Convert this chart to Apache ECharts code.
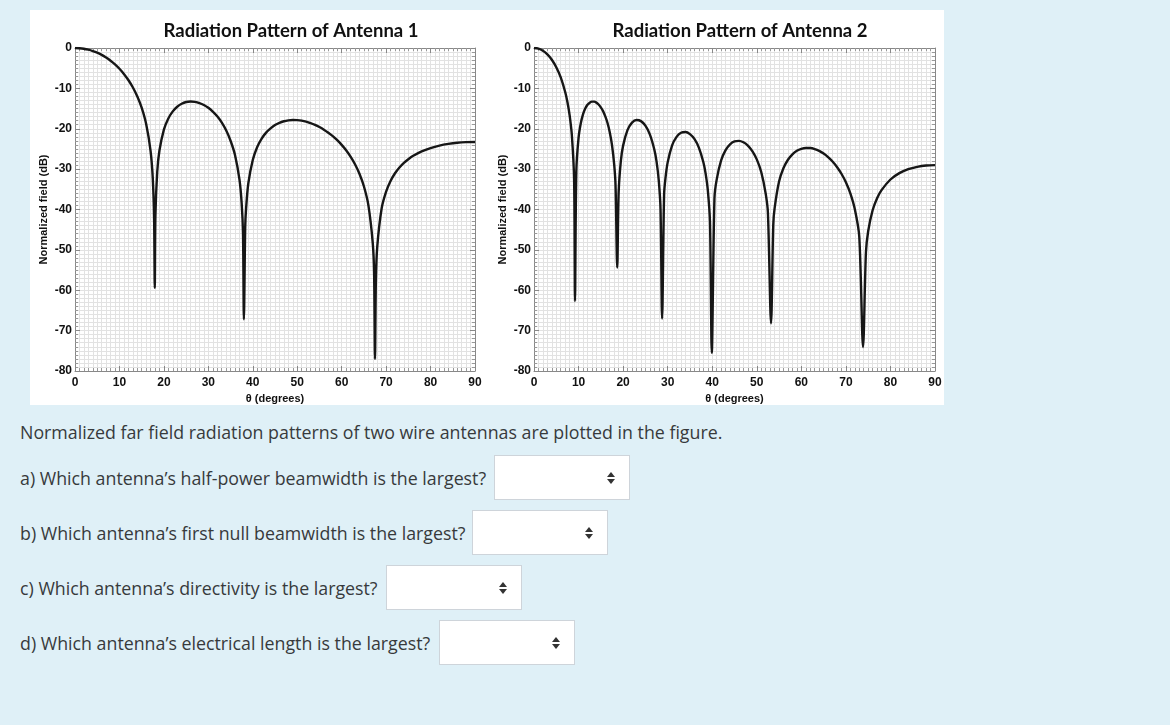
<!DOCTYPE html>
<html lang="en">
<head>
    <meta charset="UTF-8">
    <title>Radiation patterns</title>
    <script src="https://cdn.jsdelivr.net/npm/echarts@6/dist/echarts.min.js"></script>
    <style>
        body { margin: 0; background: #dff0f7; width: 1170px; height: 725px; position: relative; overflow: hidden;
               font-family: "Open Sans", sans-serif; color: #373a3c; }
        #main { position: absolute; left: 30px; top: 10px; width: 914px; height: 395px; background: #fff; }
        .q { position: absolute; left: 20px; font-size: 17.8px; line-height: 24px; white-space: nowrap; }
        .sel { position: absolute; width: 134px; height: 43px; background: #fff; border: 1px solid #ced4da; }
        .sel:before, .sel:after { content: ""; position: absolute; left: 112px; border-left: 4px solid transparent;
             border-right: 4px solid transparent; }
        .sel:before { top: 16px; border-bottom: 5px solid #333; }
        .sel:after { top: 23px; border-top: 5px solid #333; }
    </style>
</head>
<body>
<div id="main"></div>
<div class="q" style="top:420px">Normalized far field radiation patterns of two wire antennas are plotted in the figure.</div>
<div class="q" style="top:466px">a) Which antenna’s half-power beamwidth is the largest?</div>
<div class="sel" style="left:494px;top:455px"></div>
<div class="q" style="top:521px">b) Which antenna’s first null beamwidth is the largest?</div>
<div class="sel" style="left:472px;top:510px"></div>
<div class="q" style="top:576px">c) Which antenna’s directivity is the largest?</div>
<div class="sel" style="left:386px;top:565px"></div>
<div class="q" style="top:631px">d) Which antenna’s electrical length is the largest?</div>
<div class="sel" style="left:439px;top:620px"></div>
<script type="text/javascript">
    // values (theta in degrees, field in dB)
    var theta1 = [0, 1, 2, 3, 4, 5, 6, 7, 8, 9, 10, 11, 12, 13, 14, 15, 16, 17, 17.5, 17.8, 17.95, 18.1, 18.5, 19, 20,
        21, 22, 23, 24, 25, 26, 27, 28, 29, 30, 31, 32, 33, 34, 35, 36, 37, 37.5, 37.8, 38.0, 38.3, 38.5, 39, 40,
        41, 42, 43, 44, 45, 46, 47, 48, 49, 50, 51, 52, 53, 54, 55, 56, 57, 58, 59, 60,
        61, 62, 63, 64, 65, 66, 67, 67.3, 67.5, 67.7, 68, 69, 70, 71, 72, 73, 74, 75, 76, 78, 80, 82, 84, 86, 88, 90];
    var db1 = [0, -0.05, -0.18, -0.42, -0.75, -1.17, -1.71, -2.37, -3.15, -4.06, -5.14, -6.41, -7.92, -9.72, -11.95, -14.78, -18.79, -25.46, -32.3, -42.5, -59.4, -41.3, -30.7, -25.4, -20.2,
        -17.44, -15.7, -14.55, -13.81, -13.38, -13.26, -13.34, -13.63, -14.12, -14.82, -15.75, -16.92, -18.43, -20.39, -22.97, -26.5, -32.56, -38.5, -45.9, -67.2, -44.3, -39.7, -33.5, -27.72,
        -24.52, -22.43, -20.96, -19.92, -19.09, -18.53, -18.15, -17.92, -17.83, -17.86, -18.0, -18.25, -18.6, -19.04, -19.58, -20.22, -20.98, -21.83, -22.83, -23.99,
        -25.32, -26.91, -28.79, -31.15, -34.24, -38.86, -48.4, -56.0, -77.0, -57.7, -49.3, -39.7, -35.57, -32.94, -31.03, -29.6, -28.45, -27.54, -26.77, -25.6, -24.78, -24.18, -23.76, -23.47, -23.32, -23.27];

    var theta2 = [0, 1, 2, 3, 4, 5, 6, 7, 7.5, 8, 8.5, 9, 9.2, 9.5, 10, 10.5, 11, 11.5, 12, 12.5, 13, 13.5, 14, 14.5, 15,
        15.5, 16, 16.5, 17, 17.5, 18, 18.3, 18.68, 19, 19.5, 20, 21, 22, 23, 24, 25, 26, 27, 27.5, 28, 28.4, 28.75, 29.2, 29.5, 30,
        31, 32, 33, 34, 35, 36, 37, 38, 38.5, 39, 39.5, 39.9, 40.5, 41, 42, 43, 44, 45, 46, 47, 48, 49, 50,
        51, 52, 52.5, 53.2, 53.7, 54, 55, 56, 57, 58, 59, 60, 61, 62, 63, 64, 65, 66, 67, 68, 69, 70,
        71, 72, 73, 73.85, 74.5, 75, 76, 77, 78, 80, 82, 84, 86, 88, 90];
    var db2 = [0, -0.17, -0.69, -1.59, -2.91, -4.75, -7.28, -10.89, -13.38, -16.69, -21.67, -32.56, -62.7, -30.5, -22.27, -18.64, -16.43, -15.0, -14.06, -13.54, -13.28, -13.29, -13.53, -14.0, -14.69,
        -15.64, -16.95, -18.58, -20.86, -24.0, -28.9, -34.0, -54.4, -35.7, -27.9, -24.18, -20.29, -18.48, -17.84, -18.11, -19.23, -21.38, -25.12, -28.08, -32.79, -40.0, -67.0, -36.3, -32.3, -28.33,
        -24.1, -22.01, -20.99, -20.81, -21.32, -22.52, -24.68, -28.25, -30.98, -35.1, -43.2, -75.5, -37.2, -32.6, -27.83, -25.29, -23.86, -23.15, -23.0, -23.34, -24.16, -25.53, -27.59,
        -30.72, -36.07, -40.8, -68.2, -43.7, -39.7, -33.09, -29.74, -27.68, -26.34, -25.47, -24.97, -24.75, -24.78, -25.03, -25.48, -26.15, -27.03, -28.11, -29.46, -31.15, -33.25,
        -36.0, -39.9, -46.7, -74.1, -50.6, -45.4, -40.2, -37.2, -35.2, -32.57, -31.0, -30.02, -29.43, -29.1, -29.0];

    var titles = ['Radiation Pattern of Antenna 1', 'Radiation Pattern of Antenna 2'];
    var xName = 'θ (degrees)';
    var yName = 'Normalized field (dB)';

    function pairs(xs, ys) {
        return xs.map(function (x, i) { return [x, ys[i]]; });
    }

    var tickFont = { color: '#111', fontFamily: 'Liberation Sans', fontWeight: 'bold', fontSize: 12 };
    var gridLine = { show: true, lineStyle: { color: '#e2e2e2', width: 1 } };

    function xAx(g, top) {
        return {
            type: 'value', gridIndex: g, min: 0, max: 90, interval: 10, position: top ? 'top' : 'bottom',
            name: top ? '' : xName, nameLocation: 'middle', nameGap: 18,
            nameTextStyle: { color: '#111', fontFamily: 'Liberation Sans', fontWeight: 'bold', fontSize: 11 },
            axisLine: { show: true, onZero: false, lineStyle: { color: '#888' } },
            axisTick: { show: true, inside: true, length: 5, lineStyle: { color: '#888' } },
            minorTick: { show: true, splitNumber: 10, length: 3, lineStyle: { color: '#999' } },
            axisLabel: Object.assign({ show: !top, margin: 6 }, tickFont),
            splitLine: top ? { show: false } : gridLine,
            minorSplitLine: top ? { show: false } : gridLine
        };
    }
    function yAx(g, right) {
        return {
            type: 'value', gridIndex: g, min: -80, max: 0, interval: 10, position: right ? 'right' : 'left',
            name: right ? '' : yName, nameLocation: 'middle', nameGap: 26,
            nameTextStyle: { color: '#111', fontFamily: 'Liberation Sans', fontWeight: 'bold', fontSize: 11 },
            axisLine: { show: true, onZero: false, lineStyle: { color: '#888' } },
            axisTick: { show: true, inside: true, length: 5, lineStyle: { color: '#888' } },
            minorTick: { show: true, splitNumber: 10, length: 3, lineStyle: { color: '#999' } },
            axisLabel: Object.assign({ show: !right, margin: 3 }, tickFont),
            splitLine: right ? { show: false } : gridLine,
            minorSplitLine: right ? { show: false } : gridLine
        };
    }

    var myChart = echarts.init(document.getElementById('main'));
    var option = {
        animation: false,
        title: [
            { text: titles[0], left: 256, top: 7, textAlign: 'center',
              textStyle: { fontFamily: 'Lato', fontWeight: 'bold', fontSize: 18.5, color: '#111' } },
            { text: titles[1], left: 705, top: 7, textAlign: 'center',
              textStyle: { fontFamily: 'Lato', fontWeight: 'bold', fontSize: 18.5, color: '#111' } }
        ],
        grid: [
            { left: 45, top: 38, width: 400, height: 323, outerBoundsMode: 'none' },
            { left: 504, top: 38, width: 401, height: 323, outerBoundsMode: 'none' }
        ],
        xAxis: [xAx(0, false), xAx(0, true), xAx(1, false), xAx(1, true)],
        yAxis: [yAx(0, false), yAx(0, true), yAx(1, false), yAx(1, true)],
        series: [
            { type: 'line', xAxisIndex: 0, yAxisIndex: 0, data: pairs(theta1, db1), showSymbol: false,
              smooth: 0.3, lineStyle: { color: '#161616', width: 2.4 } },
            { type: 'line', xAxisIndex: 2, yAxisIndex: 2, data: pairs(theta2, db2), showSymbol: false,
              smooth: 0.3, lineStyle: { color: '#161616', width: 2.4 } }
        ]
    };
    myChart.setOption(option);
</script>
</body>
</html>
